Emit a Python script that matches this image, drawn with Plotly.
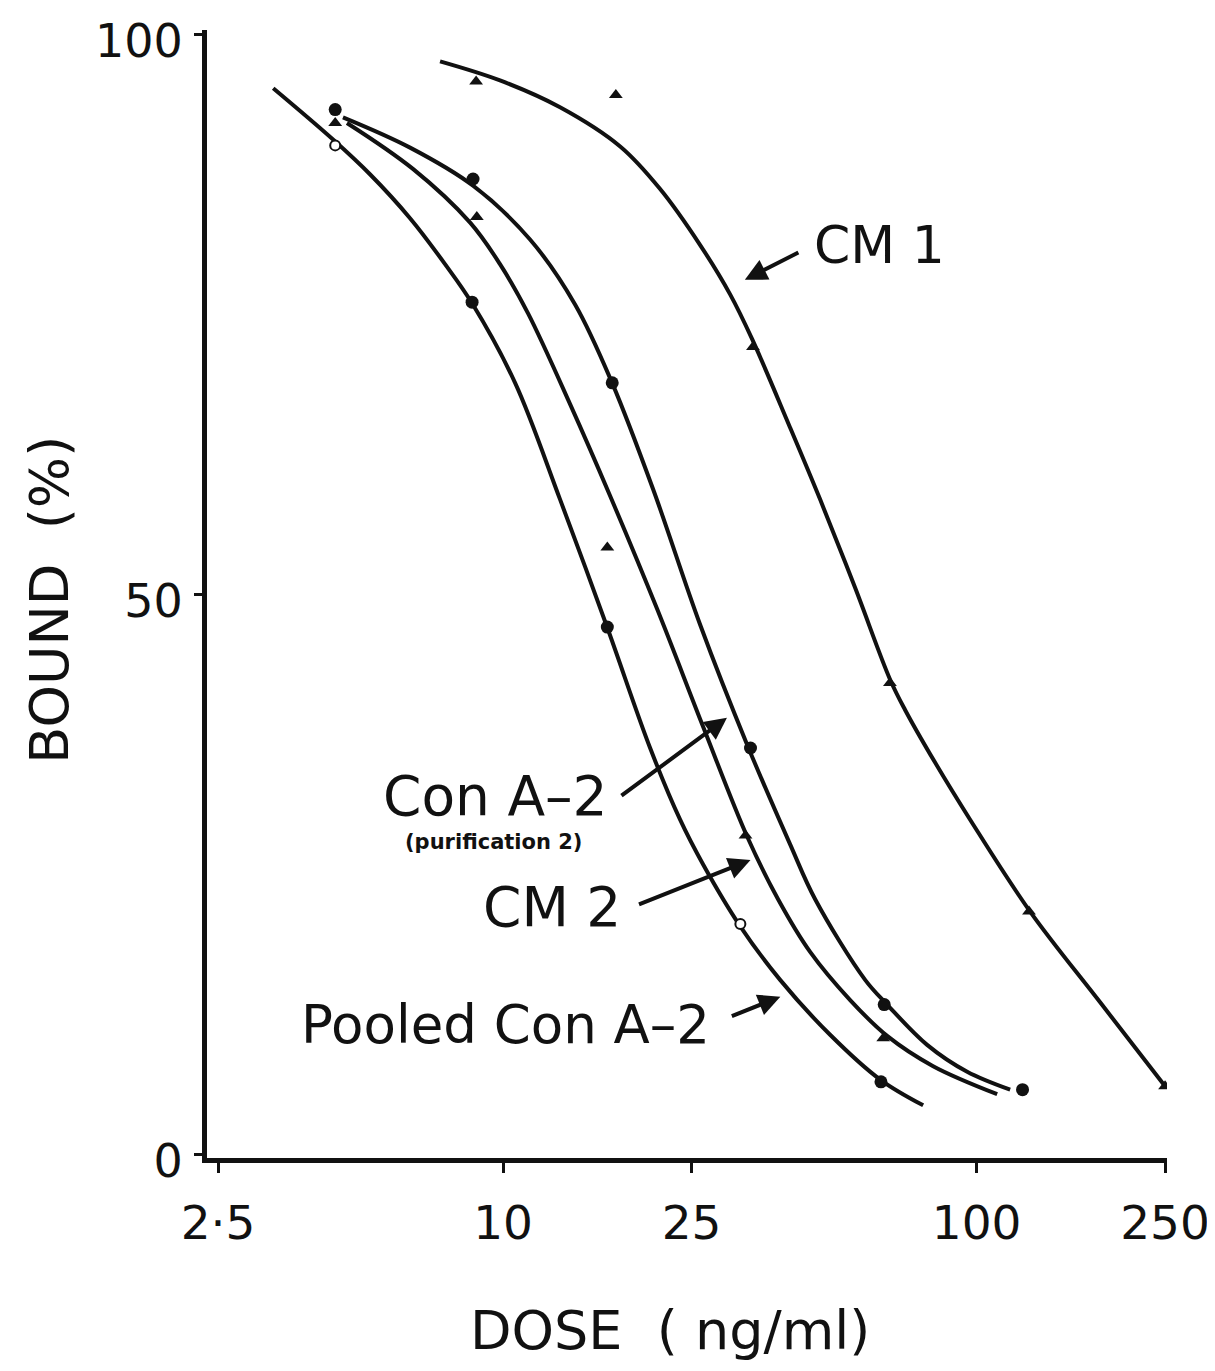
import numpy as np
import plotly.graph_objects as go

# ---------------- data ----------------
# Hand-drawn fitted curves (dose ng/ml, bound %)
cm1_curve_dose = [7.36, 9.85, 13.19, 17.67, 21.46, 26.07, 30.16, 33.57, 40.38, 46.71, 55.39, 65.67, 70.63, 81.72, 96.9, 129.7, 182.3, 250]
cm1_curve_bound = [97.6, 95.9, 93.5, 90.0, 86.2, 81.2, 76.8, 72.8, 64.9, 58.5, 50.6, 42.4, 39.7, 35.0, 29.9, 21.7, 13.6, 6.1]

cona2_curve_dose = [4.59, 6.36, 8.64, 11.40, 14.19, 16.99, 20.74, 26.07, 32.76, 40.38, 45.60, 58.15, 64.71, 78.60, 95.5, 117.7]
cona2_curve_bound = [92.6, 89.9, 86.5, 81.7, 75.9, 68.9, 59.4, 47.3, 36.6, 27.7, 22.8, 15.6, 13.4, 9.8, 7.4, 5.8]

cm2_curve_dose = [4.68, 6.45, 8.52, 9.85, 11.29, 13.85, 16.83, 21.15, 26.45, 32.76, 38.08, 44.50, 54.06, 64.71, 80.93, 110.5]
cm2_curve_bound = [92.1, 88.0, 83.2, 79.5, 75.1, 67.0, 58.8, 48.7, 38.2, 28.4, 22.8, 18.1, 13.8, 10.6, 7.9, 5.4]

pooled_curve_dose = [3.27, 4.38, 5.24, 6.36, 7.54, 8.60, 10.60, 13.19, 16.58, 20.44, 23.65, 26.45, 31.66, 38.46, 49.04, 62.55, 77.1]
pooled_curve_bound = [95.2, 90.6, 87.5, 83.6, 79.5, 76.0, 68.9, 58.5, 47.1, 36.3, 29.9, 25.9, 20.4, 15.6, 10.7, 6.7, 4.4]

# Measured points
cm1_dose = [8.77, 17.3, 33.7, 65.6, 129, 250]
cm1_bound = [95.8, 94.6, 72.1, 42.1, 21.7, 6.1]

cona2_dose = [4.42, 8.64, 17.0, 33.3, 63.8, 125]
cona2_bound = [93.3, 87.1, 68.9, 36.3, 13.4, 5.8]

cm2_dose = [4.42, 8.8, 16.6, 32.5, 63.5]
cm2_bound = [92.1, 83.7, 54.2, 28.5, 10.4]

pooled_open_dose = [4.42, 31.7]
pooled_open_bound = [90.1, 20.6]
pooled_filled_dose = [8.6, 16.6, 62.8]
pooled_filled_bound = [76.1, 47.1, 6.5]

x_tickvals = [2.5, 10, 25, 100, 250]
x_ticktext = ["2·5", "10", "25", "100", "250"]
y_tickvals = [0, 50, 100]
y_ticktext = ["0", "50", "100"]

FONT = "DejaVu Sans"
INK = "#111111"

fig = go.Figure()

for xd, yd in [(cm1_curve_dose, cm1_curve_bound), (cona2_curve_dose, cona2_curve_bound),
               (cm2_curve_dose, cm2_curve_bound), (pooled_curve_dose, pooled_curve_bound)]:
    fig.add_trace(go.Scatter(x=xd, y=yd, mode="lines",
                             line=dict(color=INK, width=4, shape="spline", smoothing=1.0),
                             showlegend=False, hoverinfo="skip"))

tri = dict(symbol="triangle-up", size=12, color=INK)
dot = dict(symbol="circle", size=13, color=INK)
ring = dict(symbol="circle", size=10, color="white", line=dict(color=INK, width=2))

fig.add_trace(go.Scatter(x=cm1_dose, y=cm1_bound, mode="markers", marker=tri, showlegend=False))
fig.add_trace(go.Scatter(x=cm2_dose, y=cm2_bound, mode="markers", marker=tri, showlegend=False))
fig.add_trace(go.Scatter(x=cona2_dose, y=cona2_bound, mode="markers", marker=dot, showlegend=False))
fig.add_trace(go.Scatter(x=pooled_filled_dose, y=pooled_filled_bound, mode="markers", marker=dot, showlegend=False))
fig.add_trace(go.Scatter(x=pooled_open_dose, y=pooled_open_bound, mode="markers", marker=ring, showlegend=False))

L = np.log10

def label(text, dose, bound, size, bold=False):
    t = f"<b>{text}</b>" if bold else text
    fig.add_annotation(x=L(dose), y=bound, xref="x", yref="y", text=t, showarrow=False,
                       font=dict(family=FONT, size=size, color=INK), xanchor="center", yanchor="middle")

def arrow(dose, bound, ax, ay):
    fig.add_annotation(x=L(dose), y=bound, xref="x", yref="y", text="", showarrow=True,
                       ax=ax, ay=ay, axref="pixel", ayref="pixel",
                       arrowhead=2, arrowsize=1.1, arrowwidth=4, arrowcolor=INK)

label("CM 1", 62.5, 81.2, 52)
label("Con A\u20132", 9.62, 32.0, 55)
label("(purification 2)", 9.53, 27.9, 21, bold=True)
label("CM 2", 12.7, 22.1, 55)
label("Pooled Con A\u20132", 10.1, 11.6, 53)

arrow(32.4, 78.1, 55, -28)
arrow(29.7, 39.0, -107, 79)
arrow(33.3, 26.3, -113, 45)
arrow(38.5, 14.1, -50, 20)

# axis titles
fig.add_annotation(x=-0.1635, y=0.495, xref="paper", yref="paper", text="BOUND  (%)",
                   textangle=-90, showarrow=False, font=dict(family=FONT, size=54, color=INK),
                   xanchor="center", yanchor="middle")
fig.add_annotation(x=0.482, y=-0.1525, xref="paper", yref="paper", text="DOSE  ( ng/ml)",
                   showarrow=False, font=dict(family=FONT, size=54, color=INK),
                   xanchor="center", yanchor="middle")

fig.update_xaxes(type="log", range=[0.3747, 2.402], tickvals=x_tickvals, ticktext=x_ticktext,
                 showline=True, linewidth=5, linecolor=INK, ticks="outside", ticklen=10,
                 tickwidth=3, tickcolor=INK, showgrid=False, zeroline=False, automargin=False,
                 ticklabeloverflow="allow",
                 tickfont=dict(family=FONT, size=47, color=INK), ticklabelstandoff=10)
fig.update_yaxes(range=[-0.3, 100.4], tickvals=y_tickvals, ticktext=y_ticktext,
                 showline=True, linewidth=5, linecolor=INK, ticks="outside", ticklen=8,
                 tickwidth=3, tickcolor=INK, showgrid=False, zeroline=False, automargin=False,
                 ticklabeloverflow="allow", ticklabelshift=6,
                 tickfont=dict(family=FONT, size=46, color=INK), ticklabelstandoff=2)

fig.update_layout(width=1215, height=1371,
                  margin=dict(l=199, r=56, t=22, b=221, autoexpand=False),
                  plot_bgcolor="white", paper_bgcolor="white", showlegend=False)

fig.write_html("out.html")
